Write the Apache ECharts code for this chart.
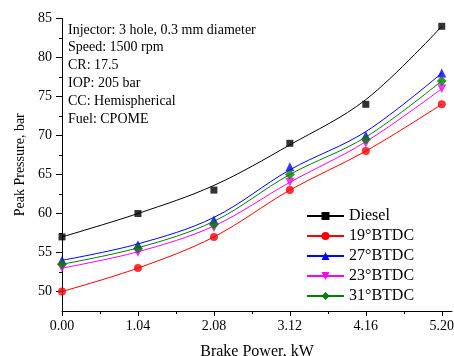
<!DOCTYPE html>
<html>
<head>
<meta charset="utf-8">
<script src="https://cdn.jsdelivr.net/npm/echarts@6/dist/echarts.min.js"></script>
<style>html,body{margin:0;padding:0;background:#fff}#c{width:454px;height:356px}</style>
</head>
<body>
<div id="c"></div>
<script>
// Brake power (kW)
const xValues = [0, 1.04, 2.08, 3.12, 4.16, 5.20];
// Measured peak pressure (bar), markers
const diesel = [57, 60, 63, 69, 74, 84];
const btdc19 = [50, 53, 57, 63, 68, 74];
const btdc27 = [54, 56, 59.2, 66, 70, 78];
const btdc23 = [53, 55, 58.2, 64, 69, 76];
const btdc31 = [53.5, 55.5, 58.6, 65, 69.5, 77];
// Fitted curves at the same x positions
const dieselFit = [57, 60, 63.6, 68.8, 74.6, 84];
const btdc19Fit = [50, 53, 57, 63, 68, 74];
const btdc27Fit = [54, 56.1, 59.5, 65.6, 70.5, 78];
const btdc23Fit = [53, 55.1, 58.4, 64, 69.2, 76];
const btdc31Fit = [53.5, 55.6, 59, 65, 69.8, 77];
// Tick labels
const xTicks = [0, 1.04, 2.08, 3.12, 4.16, 5.20];
const xMinorTicks = [0.52, 1.56, 2.60, 3.64, 4.68];
const yTicks = [50, 55, 60, 65, 70, 75, 80, 85];
const yMinorTicks = [52.5, 57.5, 62.5, 67.5, 72.5, 77.5, 82.5];
const seriesNames = ['Diesel', '19°BTDC', '27°BTDC', '23°BTDC', '31°BTDC'];
const notes = ['Injector: 3 hole, 0.3 mm diameter', 'Speed: 1500 rpm', 'CR: 17.5', 'IOP: 205 bar', 'CC: Hemispherical', 'Fuel: CPOME'];

const font = 'Liberation Serif';
const pts = [diesel, btdc19, btdc27, btdc23, btdc31];
const fits = [dieselFit, btdc19Fit, btdc27Fit, btdc23Fit, btdc31Fit];
const colors = ['#000000', '#ff0000', '#0000ff', '#ff00ff', '#008000'];
const symbols = ['rect', 'circle', 'triangle', 'triangle', 'diamond'];
const rotates = [0, 0, 0, 180, 0];
const sizes = [7, 8, 9, 9, 10];

const pair = arr => arr.map((v, i) => [xValues[i], v]);
const series = [];
seriesNames.forEach((n, i) => {
  series.push({
    name: n, type: 'line', data: pair(fits[i]), smooth: 0.35,
    symbol: symbols[i], symbolSize: sizes[i], symbolRotate: rotates[i], showSymbol: false,
    lineStyle: {color: colors[i], width: 1}, itemStyle: {color: colors[i]}, z: 2, silent: true
  });
});
seriesNames.forEach((n, i) => {
  series.push({
    name: n + ' points', type: 'scatter', data: pair(pts[i]),
    symbol: symbols[i], symbolSize: sizes[i], symbolRotate: rotates[i],
    itemStyle: {color: colors[i]}, z: 3
  });
});

const chart = echarts.init(document.getElementById('c'), null, {renderer: 'canvas'});
chart.setOption({
  animation: false,
  backgroundColor: '#ffffff',
  title: {
    text: notes.join('\n'), left: 68, top: 21, padding: 0,
    textStyle: {fontFamily: font, fontSize: 14, fontWeight: 'normal', color: '#000', lineHeight: 17.8}
  },
  legend: {
    data: seriesNames, orient: 'vertical', left: 306, top: 208, padding: 0,
    itemWidth: 37, itemHeight: 10, itemGap: 4,
    textStyle: {fontFamily: font, fontSize: 16, color: '#000', lineHeight: 16}
  },
  grid: {left: 62, right: 2, top: 18.5, bottom: 45, containLabel: false, outerBoundsMode: 'none'},
  xAxis: [{
    type: 'value', min: 0, max: 5.34, interval: 1.04,
    name: 'Brake Power, kW', nameLocation: 'middle', nameGap: 33,
    nameTextStyle: {fontFamily: font, fontSize: 16, color: '#000'},
    axisLine: {show: true, onZero: false, lineStyle: {color: '#000', width: 1}},
    axisTick: {show: true, customValues: xTicks, length: 5, lineStyle: {color: '#000'}},
    axisLabel: {customValues: xTicks, formatter: v => v.toFixed(2), margin: 8,
      fontFamily: font, fontSize: 14, color: '#000'},
    splitLine: {show: false}
  }, {
    type: 'value', min: 0, max: 5.34, interval: 1.04, position: 'bottom',
    axisLine: {show: false},
    axisTick: {show: true, customValues: xMinorTicks, length: 3, lineStyle: {color: '#000'}},
    axisLabel: {show: false}, splitLine: {show: false}
  }],
  yAxis: [{
    type: 'value', min: 47.5, max: 85, interval: 2.5,
    name: 'Peak Pressure, bar', nameLocation: 'middle', nameGap: 32, nameRotate: 90,
    nameTextStyle: {fontFamily: font, fontSize: 14, color: '#000'},
    axisLine: {show: true, onZero: false, lineStyle: {color: '#000', width: 1}},
    axisTick: {show: true, customValues: yTicks, length: 6, lineStyle: {color: '#000'}},
    axisLabel: {customValues: yTicks, margin: 10, fontFamily: font, fontSize: 14, color: '#000'},
    splitLine: {show: false}
  }, {
    type: 'value', min: 47.5, max: 85, interval: 2.5, position: 'left', offset: 0,
    axisLine: {show: false},
    axisTick: {show: true, customValues: yMinorTicks, length: 3, lineStyle: {color: '#000'}},
    axisLabel: {show: false}, splitLine: {show: false}
  }],
  series: series
});
</script>
</body>
</html>
